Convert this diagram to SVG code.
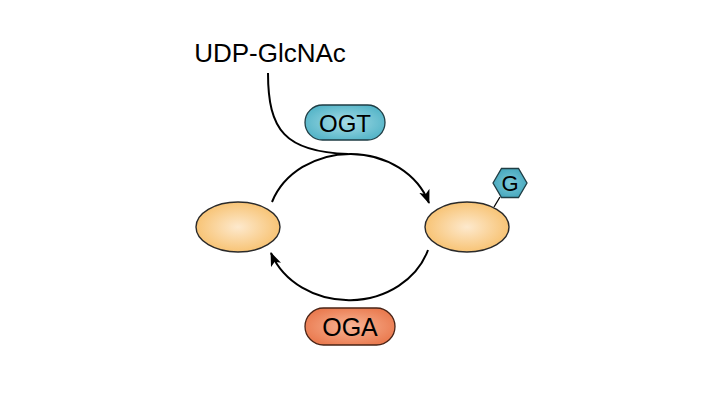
<svg xmlns="http://www.w3.org/2000/svg" width="720" height="405" viewBox="0 0 720 405">
<defs>
<radialGradient id="gEll" cx="0.5" cy="0.5" r="0.55">
<stop offset="0" stop-color="#fde9cd"/>
<stop offset="1" stop-color="#f7c06d"/>
</radialGradient>
<radialGradient id="gOGT" cx="0.5" cy="0.5" r="0.6">
<stop offset="0" stop-color="#a6dce6"/>
<stop offset="1" stop-color="#4fb2c6"/>
</radialGradient>
<radialGradient id="gOGA" cx="0.5" cy="0.5" r="0.6">
<stop offset="0" stop-color="#f8b596"/>
<stop offset="1" stop-color="#e9764a"/>
</radialGradient>
<radialGradient id="gHex" cx="0.5" cy="0.5" r="0.6">
<stop offset="0" stop-color="#7cc8d8"/>
<stop offset="1" stop-color="#3fa4ba"/>
</radialGradient>
<marker id="arrow" viewBox="0 0 14 11" refX="13" refY="5.5" markerWidth="14" markerHeight="11" markerUnits="userSpaceOnUse" orient="auto">
<path d="M0,0 L14,5.5 L0,11 L3.5,5.5 Z" fill="#000"/>
</marker>
</defs>
<style>
.lbl{font-family:"Liberation Sans",Arial,sans-serif;fill:#000;text-anchor:middle}
.edge{fill:none;stroke:#000;stroke-width:2}
.prot{fill:url(#gEll);stroke:#2a2a2a;stroke-width:1.4}
</style>
<rect width="720" height="405" fill="#fff"/>
<g id="connectors">
<path class="edge" d="M272,202 A83,72 0 0 1 429,203" marker-end="url(#arrow)"/>
<path class="edge" d="M428,250 A83,72 0 0 1 271,253" marker-end="url(#arrow)"/>
<path class="edge" d="M268,73 C268,130 285,152 348,154"/>
<line x1="500" y1="197" x2="494" y2="207" stroke="#000" stroke-width="1.3"/>
</g>
<g id="udp-glcnac">
<text class="lbl" x="270" y="62" font-size="26">UDP-GlcNAc</text>
</g>
<g id="ogt">
<rect x="305" y="105" width="80" height="35" rx="17.5" fill="url(#gOGT)" stroke="#1f3d44" stroke-width="1.3"/>
<text class="lbl" x="345" y="132" font-size="24">OGT</text>
</g>
<g id="oga">
<rect x="305" y="308" width="90" height="37" rx="18.5" fill="url(#gOGA)" stroke="#4a2416" stroke-width="1.3"/>
<text class="lbl" x="350" y="336" font-size="25">OGA</text>
</g>
<g id="protein-left">
<ellipse class="prot" cx="238" cy="227" rx="42" ry="25"/>
</g>
<g id="protein-right">
<ellipse class="prot" cx="467" cy="227" rx="42" ry="25"/>
</g>
<g id="glcnac-hex">
<polygon points="493,183 501.5,168.5 518.5,168.5 527,183 518.5,197.5 501.5,197.5" fill="url(#gHex)" stroke="#1f3d44" stroke-width="1.3"/>
<text class="lbl" x="510" y="191" font-size="22">G</text>
</g>
</svg>
